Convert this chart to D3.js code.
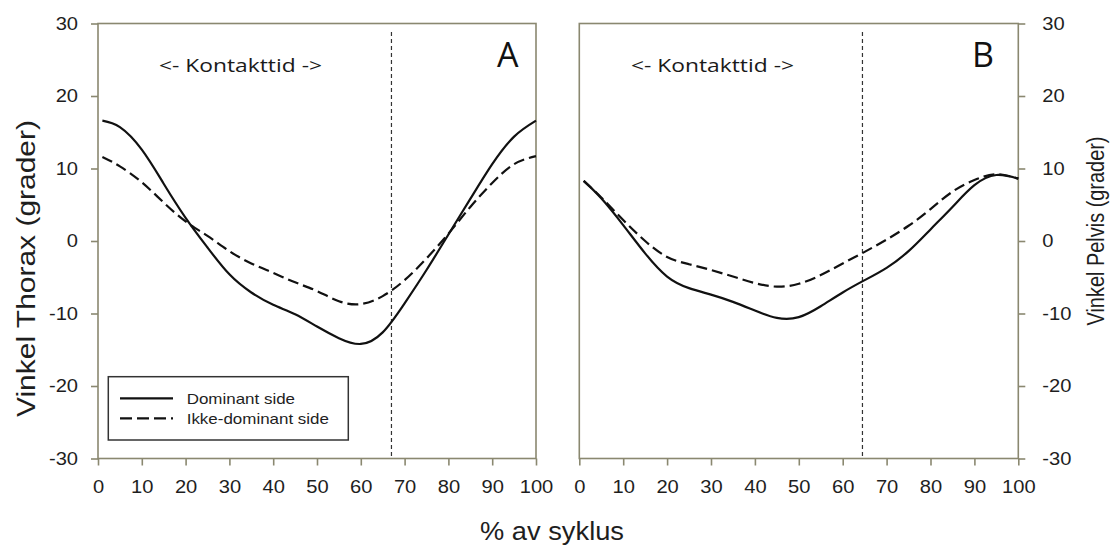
<!DOCTYPE html>
<html>
<head>
<meta charset="utf-8">
<script src="https://cdn.jsdelivr.net/npm/d3@7"></script>
<style>
  body { margin: 0; background: #fff; }
  svg { display: block; }
</style>
</head>
<body>
<script>
// data
const cycle = [1, 5, 10, 15, 20, 25, 30, 35, 40, 45, 50, 55, 60, 65, 70, 75, 80, 85, 90, 95, 100];
const thoraxDominant    = [16.6, 15.7, 12.6, 7.9, 3.2, -0.9, -4.6, -7.1, -8.8, -10.1, -11.8, -13.4, -14.2, -12.6, -8.6, -4.0, 0.9, 5.8, 10.6, 14.4, 16.6];
const thoraxNonDominant = [11.6, 10.3, 8.1, 5.3, 2.7, 0.7, -1.4, -3.1, -4.4, -5.7, -6.9, -8.3, -8.7, -7.6, -5.4, -2.4, 1.0, 4.7, 8.0, 10.6, 11.7];
const pelvisDominant    = [8.3, 5.9, 2.2, -1.7, -4.9, -6.5, -7.4, -8.4, -9.6, -10.6, -10.5, -9.0, -7.1, -5.4, -3.7, -1.4, 1.6, 4.7, 7.7, 9.1, 8.6];
const pelvisNonDominant = [8.3, 6.0, 2.9, 0.0, -2.2, -3.2, -4.0, -4.9, -5.8, -6.3, -5.9, -4.7, -3.1, -1.5, 0.2, 2.1, 4.4, 6.8, 8.4, 9.2, 8.6];
const contactEnd = [67, 64.5];
const xTicks = [0, 10, 20, 30, 40, 50, 60, 70, 80, 90, 100];
const yTicks = [-30, -20, -10, 0, 10, 20, 30];
const panelLetters = ["A", "B"];
const yTitles = ["Vinkel Thorax (grader)", "Vinkel Pelvis (grader)"];
const seriesNames = ["Dominant side", "Ikke-dominant side"];
const xTitle = "% av syklus";
const contactLabel = "<- Kontakttid ->";

const w = 1112, h = 545;
const axisColor = "#8a8870";
const ink = "#111";
const topY = 23.5, bottomY = 458.5;
const tickFont = "'Liberation Sans', Arial, sans-serif";
const noteFont = "'Open Sans', sans-serif";

const svg = d3.select("body").append("svg").attr("width", w).attr("height", h);
svg.append("rect").attr("width", w).attr("height", h).attr("fill", "#fff");

let yScale = d3.scaleLinear().domain([-30, 30]).range([bottomY, topY]);

// widen text along its baseline, the figure's fonts are broader than Arial
function stretch(sel, k) {
  sel.each(function() {
    let len = this.getComputedTextLength();
    d3.select(this).attr("textLength", len * k).attr("lengthAdjust", "spacingAndGlyphs");
  });
}

// plain hyphen minus like the original
let plain = function(d) { return String(d); };

let panels = [
  { x0: 98, x1: 536, dom: thoraxDominant, non: thoraxNonDominant, side: "left", letterX: 497, noteX: 159 },
  { x0: 579.3, x1: 1018.3, dom: pelvisDominant, non: pelvisNonDominant, side: "right", letterX: 972, noteX: 631 }
];

panels.forEach(function(p, i) {
  let xScale = d3.scaleLinear().domain([0, 100]).range([p.x0, p.x1]);
  let g = svg.append("g");

  // frame
  g.append("rect")
    .attr("x", p.x0).attr("y", topY)
    .attr("width", p.x1 - p.x0).attr("height", bottomY - topY)
    .attr("fill", "none").attr("stroke", axisColor).attr("stroke-width", 1.6);

  // x axis
  let xAxis = g.append("g")
    .attr("transform", "translate(0," + bottomY + ")")
    .call(d3.axisBottom(xScale).tickValues(xTicks).tickFormat(plain).tickSize(7).tickPadding(15.5));
  xAxis.select(".domain").remove();
  xAxis.selectAll("line").attr("stroke", axisColor).attr("stroke-width", 1.6);
  xAxis.selectAll("text").attr("fill", "#1e1e1e").style("font-family", tickFont).style("font-size", "17.5px");
  stretch(xAxis.selectAll("text"), 1.15);

  // y axis
  let yAxis;
  if (p.side === "left") {
    yAxis = g.append("g").attr("transform", "translate(" + p.x0 + ",0)")
      .call(d3.axisLeft(yScale).tickValues(yTicks).tickFormat(plain).tickSize(7).tickPadding(13));
  } else {
    yAxis = g.append("g").attr("transform", "translate(" + p.x1 + ",0)")
      .call(d3.axisRight(yScale).tickValues(yTicks).tickFormat(plain).tickSize(7).tickPadding(17));
  }
  yAxis.select(".domain").remove();
  yAxis.selectAll("line").attr("stroke", axisColor).attr("stroke-width", 1.6);
  yAxis.selectAll("text").attr("fill", "#1e1e1e").style("font-family", tickFont).style("font-size", "17.5px");
  stretch(yAxis.selectAll("text"), 1.15);

  // end of contact time
  g.append("line")
    .attr("x1", xScale(contactEnd[i])).attr("x2", xScale(contactEnd[i]))
    .attr("y1", 32).attr("y2", bottomY)
    .attr("stroke", "#333").attr("stroke-width", 1.2).attr("stroke-dasharray", "4,3");

  // curves
  let line = d3.line()
    .x(function(d, j) { return xScale(cycle[j]); })
    .y(function(d) { return yScale(d); })
    .curve(d3.curveNatural);

  g.append("path").datum(p.non).attr("d", line)
    .attr("fill", "none").attr("stroke", ink).attr("stroke-width", 2.2)
    .attr("stroke-dasharray", "11,5");
  g.append("path").datum(p.dom).attr("d", line)
    .attr("fill", "none").attr("stroke", ink).attr("stroke-width", 2.2);

  // notes
  g.append("text").text(contactLabel)
    .attr("x", p.noteX).attr("y", 71.5)
    .attr("textLength", 163).attr("lengthAdjust", "spacingAndGlyphs")
    .style("font-family", noteFont).style("font-size", "18px").attr("fill", "#1a1a1a");
  g.append("text").text(panelLetters[i])
    .attr("x", p.letterX).attr("y", 66.5)
    .style("font-family", noteFont).style("font-size", "34px").attr("fill", "#111");
});

// y titles
svg.append("text").text(yTitles[0])
  .attr("transform", "translate(35,268.5) rotate(-90)")
  .attr("text-anchor", "middle")
  .attr("textLength", 297).attr("lengthAdjust", "spacingAndGlyphs")
  .style("font-family", tickFont).style("font-size", "25px").attr("fill", "#1e1e1e");
svg.append("text").text(yTitles[1])
  .attr("transform", "translate(1103.5,231) rotate(-90)")
  .attr("text-anchor", "middle")
  .attr("textLength", 189).attr("lengthAdjust", "spacingAndGlyphs")
  .style("font-family", tickFont).style("font-size", "23px").attr("fill", "#1e1e1e");

// x title
svg.append("text").text(xTitle)
  .attr("x", 480).attr("y", 540)
  .attr("textLength", 144).attr("lengthAdjust", "spacingAndGlyphs")
  .style("font-family", tickFont).style("font-size", "26px").attr("fill", "#1e1e1e");

// legend
let legend = svg.append("g");
legend.append("rect")
  .attr("x", 108.3).attr("y", 376.7).attr("width", 240).attr("height", 63.3)
  .attr("fill", "#fff").attr("stroke", "#333").attr("stroke-width", 1.5);
seriesNames.forEach(function(name, i) {
  let ly = 398.3 + i * 20;
  legend.append("line")
    .attr("x1", 120).attr("x2", 173).attr("y1", ly).attr("y2", ly)
    .attr("stroke", ink).attr("stroke-width", 2.2)
    .attr("stroke-dasharray", i === 0 ? null : "12,5");
  let t = legend.append("text").text(name)
    .attr("x", 186.7).attr("y", ly + 5.5)
    .style("font-family", tickFont).style("font-size", "15px").attr("fill", "#1e1e1e");
  stretch(t, 1.13);
});
</script>
</body>
</html>
